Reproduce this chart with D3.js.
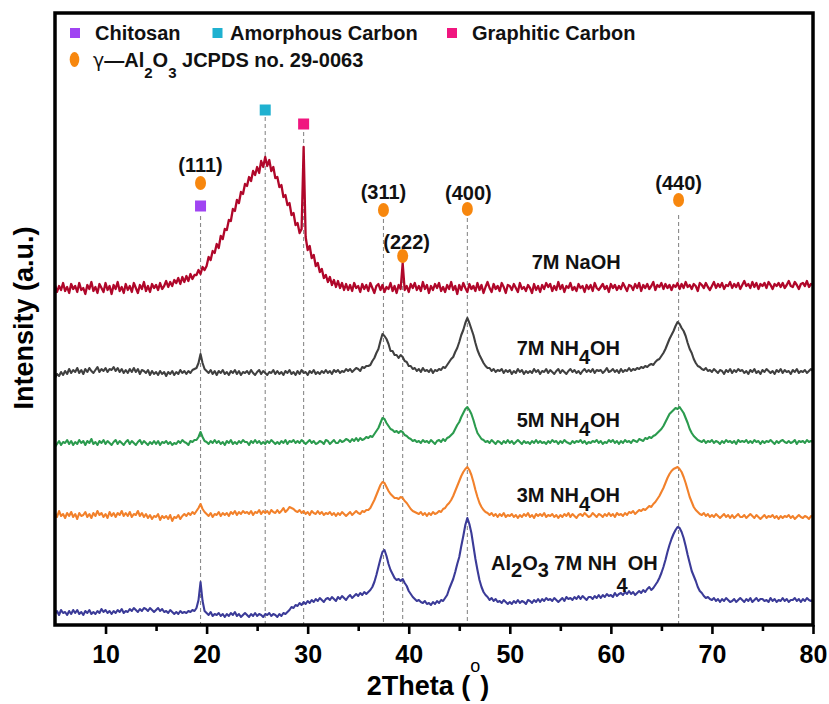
<!DOCTYPE html>
<html>
<head>
<meta charset="utf-8">
<script src="https://cdn.jsdelivr.net/npm/d3@7"></script>
<style>
  body { margin: 0; background: #fff; }
  svg { display: block; font-family: "Liberation Sans", Arial, sans-serif; font-weight: bold; }
</style>
</head>
<body>
<svg id="chart" width="829" height="704"></svg>
<script>
// ---- XRD patterns (2θ from 5° to 80°, 0.2° step; intensity in a.u.) ----
const twoThetaStart = 5;
const twoThetaStep = 0.2;

const naoh7M = [
10,3,9,5,12, 4,8,2,11,6, 9,3,12,5,7, 1,10,6,13,4, 8,2,11,7,3,
12,5,9,1,10, 6,13,4,8,2, 11,5,9,3,12, 7,2,10,6,13, 4,9,3,11,7,
10,5,12,6,9, 14,8,13,9,15, 12,17,11,18,13, 19,14,21,16,20, 20,25,21,28,25,
29,38,35,44,42, 51,47,59,56,66, 65,75,74,86,84, 95,92,103,101,111, 109,118,114,124,120,
128,122,134,128,138, 129,135,124,128,117, 118,108,110,98,100, 90,92,80,82,70, 72,62,66,148,58,
45,49,37,40,29, 32,23,26,17,20, 13,18,10,15,8, 14,7,12,5,11, 5,10,4,12,7,
9,3,11,6,10, 4,12,7,2,9, 11,5,10,3,8, 6,12,4,9,2, 10,6,32,5,9,
3,11,7,12,5, 9,4,13,6,10, 2,9,5,11,7, 12,4,8,3,10, 6,13,5,9,1,
10,5,12,7,3, 11,6,9,4,12, 5,10,2,8,13, 7,3,11,6,9, 4,12,8,2,10,
9,5,11,7,3, 12,6,8,4,10, 7,2,11,5,9, 3,10,6,12,8, 11,4,9,5,13,
6,10,3,9,7, 12,5,8,4,11, 7,9,3,10,6, 10,4,12,7,5, 8,11,6,9,3,
11,7,10,5,9, 6,12,8,4,10, 9,5,11,7,12, 4,10,7,11,6, 9,13,5,10,8,
12,6,11,7,10, 5,10,8,12,6, 11,7,13,8,10, 6,11,9,4,12, 10,7,12,8,5,
9,13,7,11,8, 12,6,10,9,13, 7,11,8,12,6, 10,14,9,11,7, 13,8,12,6,11,
9,12,7,13,10, 6,11,9,12,8, 12,7,10,14,9, 8,13,10,6,11, 12,9,14,8,11,
10
];

const nh4oh7M = [
2,6,4,8,5, 9,6,11,7,10, 8,12,7,10,6, 11,8,12,9,7, 10,13,8,11,9,
12,8,11,10,13, 9,12,8,11,7, 10,7,11,8,12, 8,11,6,10,9, 7,10,5,9,6,
8,5,9,6,8, 4,8,6,9,5, 8,6,10,7,9, 6,9,7,10,11, 12,17,26,17,11,
9,7,10,6,9, 5,9,7,10,6, 8,5,9,7,10, 6,9,5,8,7, 9,6,10,7,5,
8,10,6,9,7, 5,8,7,10,6, 9,6,8,5,9, 7,10,6,8,5, 9,6,10,7,8,
5,9,7,10,6, 8,6,9,7,10, 7,9,6,10,8, 10,7,9,8,11, 9,11,8,10,12,
11,9,13,12,14, 14,15,19,22,27, 31,39,46,44,41, 36,29,29,25,25, 22,25,23,19,18,
14,14,11,12,9, 11,8,12,9,10, 8,11,7,10,9, 11,10,13,12,15, 18,21,23,28,32,
38,45,50,57,62, 57,51,45,37,30, 25,21,17,14,12, 12,9,11,8,10, 9,11,7,10,8,
10,6,9,7,11, 8,10,6,9,7, 9,7,11,8,10, 6,9,8,11,7, 10,8,6,9,11,
7,10,8,6,9, 11,8,10,7,9, 6,9,11,8,10, 8,11,7,10,9, 10,7,9,12,8,
9,11,8,10,7, 11,8,10,9,12, 9,11,10,12,11, 13,12,14,13,15, 16,15,18,20,21,
24,27,31,36,41, 45,49,54,58,56, 52,49,44,37,31, 27,21,17,14,13, 11,10,12,9,10,
8,11,9,7,10, 9,6,10,8,11, 7,10,8,11,9, 10,7,9,6,10, 8,11,7,9,6,
10,8,11,9,7, 9,6,10,8,11, 7,10,8,9,6, 10,8,11,7,9, 8,10,7,9,11,
9
];

const nh4oh5M = [
3,6,9,5,8, 7,10,6,9,5, 8,6,10,7,9, 5,9,7,11,6, 8,5,9,7,10,
6,9,7,5,8, 10,6,9,7,5, 8,10,6,9,7, 5,8,10,6,9, 7,5,8,6,9,
6,9,5,8,7, 9,6,8,5,7, 6,9,7,10,8, 7,5,9,8,10, 10,13,18,13,9,
8,6,9,7,10, 7,9,6,8,5, 9,7,10,6,8, 6,9,7,10,8, 8,5,9,7,10,
7,9,6,8,6, 9,7,10,8,6, 8,6,9,7,10, 6,9,8,10,7, 9,7,10,8,6,
8,10,7,9,6, 7,9,8,6,10, 9,6,8,10,7, 7,10,8,9,11, 10,8,11,9,12,
9,12,10,11,13, 12,14,13,16,19, 22,27,32,31,27, 24,21,20,18,19, 17,19,18,15,14,
12,11,9,10,8, 9,7,10,8,9, 7,10,8,6,9, 10,8,11,9,12, 13,15,17,21,25,
28,33,37,41,43, 40,36,30,23,17, 14,11,10,8,9, 7,10,8,6,9, 8,6,9,7,10,
7,9,6,8,10, 8,6,9,7,8, 6,9,7,10,7, 9,7,8,6,9, 7,10,8,9,6,
9,7,10,8,7, 6,9,7,9,8, 10,7,9,6,8, 7,9,8,10,7, 9,6,8,7,10,
8,10,7,9,6, 9,7,10,8,9, 7,10,9,8,11, 10,9,12,11,13, 12,14,15,17,19,
21,24,28,32,36, 38,40,42,41,43, 40,37,32,27,21, 17,14,12,10,9, 8,10,7,9,8,
10,7,9,8,6, 9,7,10,8,9, 7,9,6,10,8, 9,8,10,7,9, 7,10,8,9,6,
9,7,9,8,10, 8,6,9,7,9, 10,8,7,9,7, 8,10,6,9,8, 9,7,10,8,9,
8
];

const nh4oh3M = [
12,8,14,9,11, 7,12,9,13,8, 11,6,12,9,10, 13,8,11,7,12, 9,14,10,12,8,
11,7,13,9,12, 8,12,10,14,9, 12,9,13,8,11, 10,14,9,12,8, 11,7,10,6,9,
8,11,5,9,7, 9,6,10,4,8, 7,10,6,9,11, 9,12,10,13,11, 14,17,21,16,13,
11,9,12,8,11, 10,13,9,12,10, 12,9,13,11,14, 10,13,11,14,12, 13,11,14,10,13,
12,15,11,14,12, 14,11,15,13,12, 15,12,14,17,13, 15,18,17,16,14, 13,15,12,14,11,
13,10,14,12,11, 14,11,13,10,12, 11,13,10,12,9, 12,10,13,11,9, 11,13,10,12,14,
12,11,14,13,15, 15,17,21,25,30, 35,40,43,42,38, 34,31,29,27,27, 26,28,27,24,22,
19,16,14,13,12, 11,13,10,12,9, 12,10,13,11,12, 14,13,16,17,20, 22,25,29,34,39,
44,49,53,56,58, 55,50,43,35,28, 22,18,15,13,12, 10,12,9,11,8, 11,9,12,8,10,
9,11,8,10,7, 10,8,11,9,12, 8,10,7,11,9, 11,9,12,8,10, 9,11,8,10,7,
10,8,11,9,12, 8,11,9,7,10, 11,9,12,10,8, 9,12,10,8,11, 10,8,11,9,12,
9,11,8,12,10, 11,9,12,10,13, 12,14,11,13,15, 14,16,15,17,19, 18,21,23,26,29,
33,37,42,47,51, 54,56,57,58,56, 53,48,42,35,28, 23,18,15,13,11, 10,12,9,11,8,
10,8,11,9,7, 9,11,8,10,7, 10,7,9,11,8, 8,10,7,9,11, 9,7,10,8,6,
8,10,7,9,8, 10,7,9,6,9, 7,9,8,10,7, 9,6,8,10,8, 7,9,8,6,9,
8
];

const alumina7M = [
6,9,5,10,7, 8,5,9,6,10, 7,10,6,8,5, 9,7,10,6,8, 6,9,7,11,8,
10,7,9,6,9, 7,10,8,11,7, 9,8,11,9,12, 10,8,11,9,12, 11,9,12,10,8,
10,12,9,11,8, 9,7,10,8,6, 8,6,9,7,8, 7,9,8,10,9, 12,20,38,19,9,
7,5,8,4,6, 5,7,4,6,3, 6,4,7,5,8, 4,6,3,5,7, 5,3,6,4,7,
4,6,5,3,6, 5,7,4,6,5, 3,6,4,7,6, 8,10,13,12,15, 14,17,15,18,16,
19,17,20,18,21, 19,22,20,18,21, 22,20,23,21,19, 23,21,24,22,20, 23,25,22,24,26,
24,27,25,28,26, 28,30,33,38,45, 53,61,68,70,64, 56,50,46,42,40, 41,39,41,37,34,
29,26,23,21,19, 20,18,17,19,16, 17,15,18,16,19, 17,20,19,22,25, 31,36,41,48,56,
63,74,84,95,102, 96,87,74,61,50, 40,33,28,25,23, 20,22,19,21,18, 19,17,20,18,16,
18,16,19,17,20, 17,19,18,16,20, 19,17,20,18,21, 18,21,19,22,20, 21,19,22,20,18,
20,22,19,23,21, 22,20,23,21,24, 21,24,22,20,23, 23,21,24,22,25, 22,25,23,26,24,
25,23,27,24,26, 27,25,28,26,29, 26,28,25,27,29, 27,30,28,31,33, 30,32,35,38,42,
47,53,60,68,75, 81,86,90,93,92, 88,82,74,65,57, 49,44,39,33,29, 27,24,22,23,21,
20,22,19,21,18, 21,19,22,20,18, 19,21,18,20,22, 20,18,21,19,22, 18,20,22,19,21,
21,19,20,18,22, 19,21,18,20,19, 22,19,21,18,20, 20,22,19,21,18, 21,19,22,20,19,
20
];

// Stacking order (top to bottom) and vertical offsets of each pattern
const seriesValues = [naoh7M, nh4oh7M, nh4oh5M, nh4oh3M, alumina7M];
const seriesLabels = ["7M NaOH", "7M NH_4OH", "5M NH_4OH", "3M NH_4OH", "Al_2O_3 7M NH__4OH"];
const seriesOffsets = [330, 245, 175, 100, 5];
const seriesColors = ["#b0072a", "#404040", "#2b9b4e", "#f2812b", "#3b3b98"];

// Reference reflections
const aluminaAngles = [19.4, 37.5, 39.4, 45.8, 66.7];
const aluminaHkl = ["(111)", "(311)", "(222)", "(400)", "(440)"];
const phaseNames = ["Chitosan", "Amorphous Carbon", "Graphitic Carbon"];
const phaseAngles = [19.4, 25.8, 29.6];
const phaseColors = ["#a044f2", "#1fb1d0", "#f0167f"];
const aluminaPhase = "γ";
const aluminaName = "—Al_2O_3 JCPDS no. 29-0063";
const aluminaColor = "#f7870e";

// Axis ticks
const xMajorTicks = [10, 20, 30, 40, 50, 60, 70, 80];
const xMinorTicks = [15, 25, 35, 45, 55, 65, 75];

// ---- layout ----
const svg = d3.select("#chart");
const plot = { left: 55, right: 813, top: 13, bottom: 625 };
const x = d3.scaleLinear().domain([5, 80]).range([plot.left, plot.right]);
const y = d3.scaleLinear().domain([0, 612]).range([plot.bottom, plot.top]);

// annotation heights (intensity units) for reflection markers
const aluminaLayout = [
  { label: 453, mark: 442, guide: 409, dx: 0 },
  { label: 426, mark: 415, guide: 406, dx: 0 },
  { label: 376, mark: 369, guide: 360, dx: 4 },
  { label: 425, mark: 416, guide: 407, dx: 1 },
  { label: 435, mark: 425, guide: 410, dx: 0 }
];
const phaseLayout = [
  { mark: 419, guide: 409 },
  { mark: 515, guide: 508 },
  { mark: 501, guide: 493 }
];
const seriesLabelPos = [
  { t: 52.17, v: 356 },
  { t: 50.68, v: 270 },
  { t: 50.68, v: 198 },
  { t: 50.68, v: 123 },
  { t: 48.14, v: 55 }
];

// text with "_n" subscripts and "__n" deeper subscripts
function richText(textSel, str, subDy, deepDy, subSize) {
  const parts = str.split(/(__?\d)/).filter(s => s.length);
  let shift = 0;
  parts.forEach(p => {
    let target = 0, t = p, sub = false;
    if (p.startsWith("__")) { target = deepDy; t = p.slice(2); sub = true; }
    else if (p.startsWith("_")) { target = subDy; t = p.slice(1); sub = true; }
    const ts = textSel.append("tspan").attr("dy", target - shift).text(t);
    if (sub && subSize) ts.attr("font-size", subSize);
    shift = target;
  });
}

svg.append("defs").append("clipPath").attr("id", "plotClip")
  .append("rect").attr("x", plot.left).attr("y", plot.top)
  .attr("width", plot.right - plot.left).attr("height", plot.bottom - plot.top);

// dashed guide lines
const guides = svg.append("g").attr("stroke", "#8a8a8a").attr("stroke-width", 1.1)
  .attr("stroke-dasharray", "4,3");
aluminaAngles.forEach((a, i) => {
  guides.append("line").attr("x1", x(a)).attr("x2", x(a))
    .attr("y1", y(aluminaLayout[i].guide)).attr("y2", y(0));
});
phaseAngles.forEach((a, i) => {
  if (i === 0) return; // shares the (111) guide
  guides.append("line").attr("x1", x(a)).attr("x2", x(a))
    .attr("y1", y(phaseLayout[i].guide)).attr("y2", y(0));
});

// patterns
const curves = svg.append("g").attr("clip-path", "url(#plotClip)");
seriesValues.forEach((vals, si) => {
  const line = d3.line()
    .x((d, i) => x(twoThetaStart + i * twoThetaStep))
    .y(d => y(d + seriesOffsets[si]));
  curves.append("path").datum(vals)
    .attr("fill", "none").attr("stroke", seriesColors[si])
    .attr("stroke-width", si === 0 ? 2.3 : 2.1).attr("stroke-linejoin", "round")
    .attr("d", line);
});

// series labels
seriesLabels.forEach((lab, i) => {
  const t = svg.append("text").attr("x", x(seriesLabelPos[i].t)).attr("y", y(seriesLabelPos[i].v))
    .attr("font-size", 20).attr("fill", "#111");
  richText(t, lab, i === 4 ? 7 : 9, 22, null);
});

// reflection markers
aluminaAngles.forEach((a, i) => {
  const L = aluminaLayout[i];
  svg.append("ellipse").attr("cx", x(a)).attr("cy", y(L.mark)).attr("rx", 5.5).attr("ry", 7)
    .attr("fill", aluminaColor);
  svg.append("text").attr("x", x(a) + L.dx).attr("y", y(L.label)).attr("text-anchor", "middle")
    .attr("font-size", 20).attr("fill", "#111").text(aluminaHkl[i]);
});
phaseAngles.forEach((a, i) => {
  svg.append("rect").attr("x", x(a) - 5.5).attr("y", y(phaseLayout[i].mark) - 5.5)
    .attr("width", 11).attr("height", 11).attr("fill", phaseColors[i]);
});

// legend
const legend = svg.append("g").attr("font-size", 20).attr("fill", "#111");
const legendRow1 = [{ m: 75, t: 95 }, { m: 217.5, t: 230 }, { m: 452, t: 472 }];
phaseNames.forEach((n, i) => {
  legend.append("rect").attr("x", legendRow1[i].m - 5).attr("y", 28).attr("width", 10).attr("height", 10)
    .attr("fill", phaseColors[i]);
  legend.append("text").attr("x", legendRow1[i].t).attr("y", 40).text(n);
});
legend.append("ellipse").attr("cx", 74.5).attr("cy", 59.5).attr("rx", 4.8).attr("ry", 7.5).attr("fill", aluminaColor);
const lt = legend.append("text").attr("x", 93).attr("y", 67);
lt.append("tspan").attr("font-family", "'DejaVu Sans', sans-serif").attr("font-weight", "normal")
  .attr("font-size", 19).text(aluminaPhase);
richText(lt, aluminaName, 11, 11, 15);

// bottom axis ticks
const axisG = svg.append("g").attr("transform", `translate(0,${plot.bottom})`);
axisG.call(d3.axisBottom(x).tickValues(xMajorTicks).tickSize(9).tickPadding(11).tickFormat(d3.format("d")));
axisG.select(".domain").remove();
axisG.selectAll(".tick line").attr("stroke", "#000").attr("stroke-width", 2.6);
axisG.selectAll(".tick text").attr("font-size", 25).attr("font-weight", "bold")
  .attr("font-family", "'Liberation Sans', Arial, sans-serif").attr("fill", "#000");
const minorG = svg.append("g").attr("transform", `translate(0,${plot.bottom})`);
minorG.call(d3.axisBottom(x).tickValues(xMinorTicks).tickSize(6).tickFormat(""));
minorG.select(".domain").remove();
minorG.selectAll(".tick line").attr("stroke", "#000").attr("stroke-width", 2.6);

// frame
svg.append("rect").attr("x", plot.left).attr("y", plot.top)
  .attr("width", plot.right - plot.left).attr("height", plot.bottom - plot.top)
  .attr("fill", "none").attr("stroke", "#000").attr("stroke-width", 3.5);

// axis titles
const xt = svg.append("text").attr("x", 428).attr("y", 695).attr("text-anchor", "middle")
  .attr("font-size", 27).attr("fill", "#000");
xt.append("tspan").text("2Theta (");
xt.append("tspan").attr("dy", -23).attr("font-size", 18).attr("font-weight", "normal").text("o");
xt.append("tspan").attr("dy", 23).text(")");

svg.append("text").attr("transform", "translate(33,318) rotate(-90)").attr("text-anchor", "middle")
  .attr("font-size", 27).attr("fill", "#000").text("Intensity (a.u.)");
</script>
</body>
</html>
